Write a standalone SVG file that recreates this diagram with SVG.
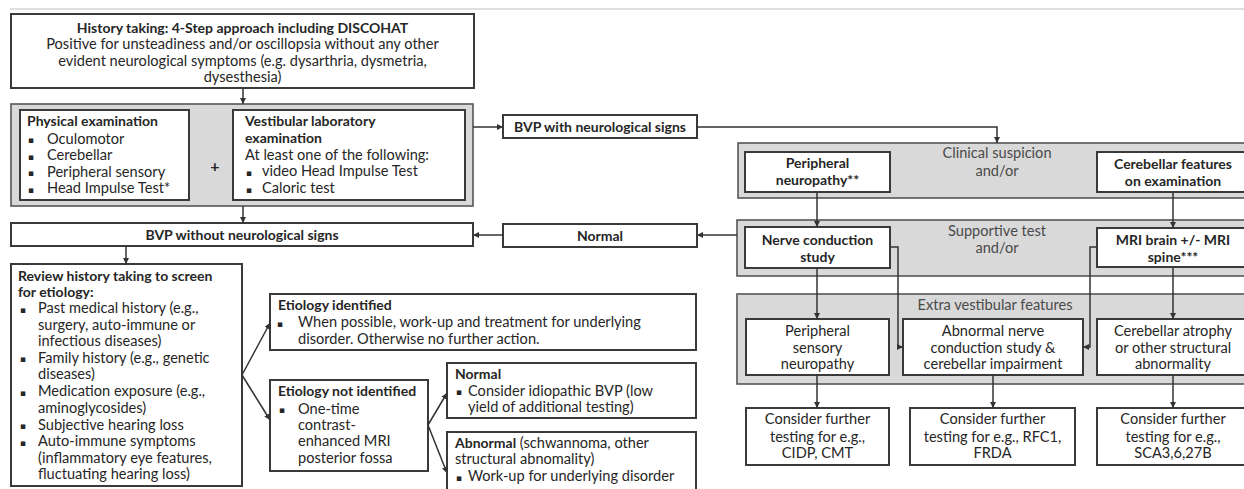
<svg xmlns="http://www.w3.org/2000/svg" width="1244" height="489" viewBox="0 0 1244 489">
<style>
text{font-family:Lato,"DejaVu Sans",sans-serif;font-size:14.6px;fill:#262626}
.b{font-weight:bold;font-size:14px}
.c{text-anchor:middle}
.g{fill:#4a4a4a}
.box{fill:#fff;stroke:#3a3a3a;stroke-width:2}
.pan{fill:#d9d9d9;stroke:#555;stroke-width:1.6}
.con{fill:none;stroke:#333;stroke-width:1.5}
.bl{font-family:"DejaVu Sans",sans-serif;font-size:9px}
</style>
<defs>
<marker id="ah" markerUnits="userSpaceOnUse" markerWidth="7" markerHeight="7" refX="6" refY="3" orient="auto">
<path d="M0,0 L6,3 L0,6 z" fill="#333"/>
</marker>
</defs>
<rect width="1244" height="489" fill="#fff"/>
<line x1="10" y1="9" x2="1244" y2="9" stroke="#d4d4d4" stroke-width="1.5"/>

<g id="history">
<rect class="box" x="11" y="14" width="463" height="74"/>
<text class="c b" x="242.5" y="32.5">History taking: 4-Step approach including DISCOHAT</text>
<text class="c" x="242.5" y="48.5">Positive for unsteadiness and/or oscillopsia without any other</text>
<text class="c" x="242.5" y="65.5">evident neurological symptoms (e.g. dysarthria, dysmetria,</text>
<text class="c" x="242.5" y="82">dysesthesia)</text>
</g>

<g id="exam-panel">
<rect class="pan" x="11" y="104" width="462" height="102"/>
<text class="c b" x="215" y="172" style="font-size:16px">+</text>
</g>
<g id="physical">
<rect class="box" x="20" y="110" width="169" height="90"/>
<text class="b" x="27" y="126">Physical examination</text>
<text class="bl" x="28" y="143">▪</text><text x="47" y="143.5">Oculomotor</text>
<text class="bl" x="28" y="159.5">▪</text><text x="47" y="160">Cerebellar</text>
<text class="bl" x="28" y="176">▪</text><text x="47" y="176.5">Peripheral sensory</text>
<text class="bl" x="28" y="192.5">▪</text><text x="47" y="193">Head Impulse Test*</text>
</g>
<g id="vestibular">
<rect class="box" x="233" y="110" width="232" height="90"/>
<text class="b" x="245" y="126">Vestibular laboratory</text>
<text class="b" x="245" y="143">examination</text>
<text x="245" y="159.5">At least one of the following:</text>
<text class="bl" x="246" y="176">▪</text><text x="262" y="176">video Head Impulse Test</text>
<text class="bl" x="246" y="192.5">▪</text><text x="262" y="192.5">Caloric test</text>
</g>

<g id="bvp-with">
<rect class="box" x="503" y="115" width="194" height="23"/>
<text class="c b" x="600" y="131.5">BVP with neurological signs</text>
</g>
<g id="bvp-without">
<rect class="box" x="11" y="223" width="462" height="23"/>
<text class="c b" x="242" y="239.5">BVP without neurological signs</text>
</g>
<g id="normal-main">
<rect class="box" x="503" y="224" width="194" height="23"/>
<text class="c b" x="600" y="240.5">Normal</text>
</g>

<g id="clinical-panel">
<rect class="pan" x="738" y="143" width="512" height="55"/>
<text class="c g" x="997" y="158">Clinical suspicion</text>
<text class="c g" x="997" y="176">and/or</text>
</g>
<g id="peripheral-neuropathy">
<rect class="box" x="745" y="152" width="145" height="40"/>
<text class="c b" x="817.5" y="167.5">Peripheral</text>
<text class="c b" x="817.5" y="184.5">neuropathy**</text>
</g>
<g id="cerebellar-features">
<rect class="box" x="1097" y="152" width="152" height="40"/>
<text class="c b" x="1173" y="168.5">Cerebellar features</text>
<text class="c b" x="1173" y="185.5">on examination</text>
</g>

<g id="supportive-panel">
<rect class="pan" x="737" y="220" width="513" height="56"/>
<text class="c g" x="997" y="236">Supportive test</text>
<text class="c g" x="997" y="253">and/or</text>
</g>
<g id="nerve-conduction">
<rect class="box" x="745" y="227" width="145" height="41"/>
<text class="c b" x="817.5" y="244.5">Nerve conduction</text>
<text class="c b" x="817.5" y="261.5">study</text>
</g>
<g id="mri">
<rect class="box" x="1097" y="228" width="152" height="39"/>
<text class="c b" x="1173" y="244.5">MRI brain +/- MRI</text>
<text class="c b" x="1173" y="261.5">spine***</text>
</g>

<g id="extra-panel">
<rect class="pan" x="737" y="294" width="513" height="90"/>
<text class="c g" x="995" y="310">Extra vestibular features</text>
</g>
<g id="peripheral-sensory">
<rect class="box" x="746" y="319" width="143" height="56"/>
<text class="c" x="817.5" y="336">Peripheral</text>
<text class="c" x="817.5" y="352.5">sensory</text>
<text class="c" x="817.5" y="369">neuropathy</text>
</g>
<g id="abnormal-ncs">
<rect class="box" x="903" y="319" width="180" height="56"/>
<text class="c" x="993" y="336">Abnormal nerve</text>
<text class="c" x="993" y="352.5">conduction study &amp;</text>
<text class="c" x="993" y="369">cerebellar impairment</text>
</g>
<g id="cerebellar-atrophy">
<rect class="box" x="1097" y="319" width="152" height="56"/>
<text class="c" x="1173" y="336">Cerebellar atrophy</text>
<text class="c" x="1173" y="352.5">or other structural</text>
<text class="c" x="1173" y="369">abnormality</text>
</g>

<g id="further-1">
<rect class="box" x="746" y="408" width="143" height="57"/>
<text class="c" x="817.5" y="424">Consider further</text>
<text class="c" x="817.5" y="441.5">testing for e.g.,</text>
<text class="c" x="817.5" y="458">CIDP, CMT</text>
</g>
<g id="further-2">
<rect class="box" x="910" y="408" width="165" height="57"/>
<text class="c" x="992.5" y="424">Consider further</text>
<text class="c" x="992.5" y="441.5">testing for e.g., RFC1,</text>
<text class="c" x="992.5" y="458">FRDA</text>
</g>
<g id="further-3">
<rect class="box" x="1097" y="408" width="152" height="57"/>
<text class="c" x="1173" y="424">Consider further</text>
<text class="c" x="1173" y="441.5">testing for e.g.,</text>
<text class="c" x="1173" y="458">SCA3,6,27B</text>
</g>

<g id="review">
<rect class="box" x="11" y="264" width="231" height="222"/>
<text class="b" x="18" y="280.5">Review history taking to screen</text>
<text class="b" x="18" y="296.5">for etiology:</text>
<text class="bl" x="20" y="312.5">▪</text><text x="38" y="313">Past medical history (e.g.,</text>
<text x="38" y="329.5">surgery, auto-immune or</text>
<text x="38" y="346">infectious diseases)</text>
<text class="bl" x="20" y="362">▪</text><text x="38" y="362.5">Family history (e.g., genetic</text>
<text x="38" y="379">diseases)</text>
<text class="bl" x="20" y="395.5">▪</text><text x="38" y="396">Medication exposure (e.g.,</text>
<text x="38" y="412.5">aminoglycosides)</text>
<text class="bl" x="20" y="429">▪</text><text x="38" y="429.5">Subjective hearing loss</text>
<text class="bl" x="20" y="445.5">▪</text><text x="38" y="446">Auto-immune symptoms</text>
<text x="38" y="462.5">(inflammatory eye features,</text>
<text x="38" y="479">fluctuating hearing loss)</text>
</g>

<g id="etiology-identified">
<rect class="box" x="270" y="294" width="426" height="56"/>
<text class="b" x="278" y="310">Etiology identified</text>
<text class="bl" x="277" y="326.5">▪</text><text x="298" y="327">When possible, work-up and treatment for underlying</text>
<text x="298" y="343.5">disorder. Otherwise no further action.</text>
</g>
<g id="etiology-not-identified">
<rect class="box" x="270" y="380" width="158" height="91"/>
<text class="b" x="278" y="396">Etiology not identified</text>
<text class="bl" x="279" y="413">▪</text><text x="298" y="413.5">One-time</text>
<text x="298" y="430">contrast-</text>
<text x="298" y="446">enhanced MRI</text>
<text x="298" y="462.5">posterior fossa</text>
</g>
<g id="normal-mri">
<rect class="box" x="447" y="363" width="249" height="55"/>
<text class="b" x="455" y="378.5">Normal</text>
<text class="bl" x="456" y="395">▪</text><text x="468" y="395.5">Consider idiopathic BVP (low</text>
<text x="468" y="411.5">yield of additional testing)</text>
</g>
<g id="abnormal-mri">
<rect class="box" x="447" y="432" width="249" height="62"/>
<text x="455" y="447.5"><tspan class="b">Abnormal</tspan> (schwannoma, other</text>
<text x="455" y="464">structural abnomality)</text>
<text class="bl" x="456" y="480.5">▪</text><text x="468" y="481">Work-up for underlying disorder</text>
</g>

<g id="connectors">
<path class="con" marker-end="url(#ah)" d="M243,88 V104"/>
<path class="con" marker-end="url(#ah)" d="M473,127 H503"/>
<path class="con" marker-end="url(#ah)" d="M697,127 H997 V143"/>
<path class="con" marker-end="url(#ah)" d="M243,206 V223"/>
<path class="con" marker-end="url(#ah)" d="M737,235 H697"/>
<path class="con" marker-end="url(#ah)" d="M503,235 H473"/>
<path class="con" marker-end="url(#ah)" d="M126,246 V264"/>
<path class="con" marker-end="url(#ah)" d="M817,192 V227"/>
<path class="con" marker-end="url(#ah)" d="M1173,192 V228"/>
<path class="con" marker-end="url(#ah)" d="M817,268 V319"/>
<path class="con" marker-end="url(#ah)" d="M890,247 H898 V347 H903"/>
<path class="con" marker-end="url(#ah)" d="M1097,247 H1090 V347 H1083"/>
<path class="con" marker-end="url(#ah)" d="M1173,267 V319"/>
<path class="con" marker-end="url(#ah)" d="M817,375 V408"/>
<path class="con" marker-end="url(#ah)" d="M993,375 V408"/>
<path class="con" marker-end="url(#ah)" d="M1173,375 V408"/>
<path class="con" marker-end="url(#ah)" d="M242,375 L270,323"/>
<path class="con" marker-end="url(#ah)" d="M242,375 L270,420"/>
<path class="con" marker-end="url(#ah)" d="M428,425 L447,393"/>
<path class="con" marker-end="url(#ah)" d="M428,425 L447,473"/>
</g>
</svg>
